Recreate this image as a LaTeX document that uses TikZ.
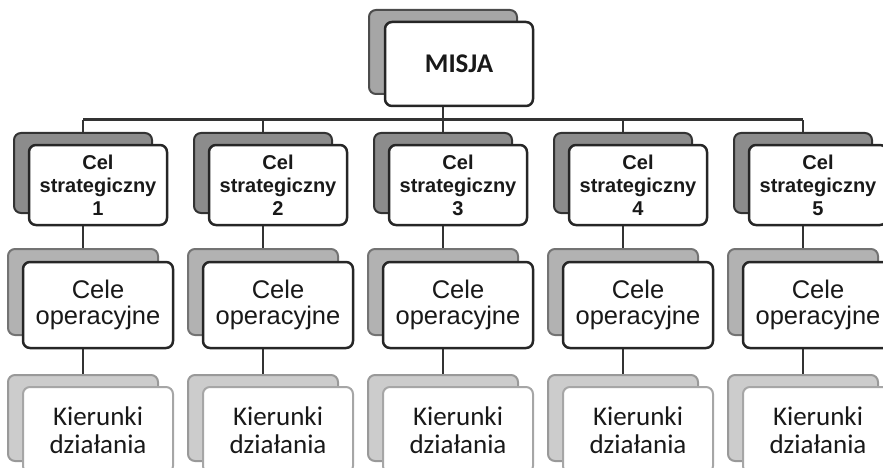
\documentclass[tikz,border=0pt]{standalone}
\usepackage{fontspec}
\setmainfont{Liberation Sans}
\newfontfamily\calibri{Carlito}
\usepackage{tikz}
\usetikzlibrary{positioning,backgrounds}
\tikzset{%
	shadowbox/.style = {rectangle, rounded corners=7pt, line width=2pt, inner sep=0pt},
	frontbox/.style  = {rectangle, rounded corners=7pt, fill=white, line width=2.5pt, draw=black!85, align=center, inner sep=0pt, text=black!90},
	misjabox/.style  = {minimum width=148pt, minimum height=84pt},
	celbox/.style    = {minimum width=138pt, minimum height=80pt},
	opbox/.style     = {minimum width=150pt, minimum height=86pt},
	link/.style      = {line width=2.5pt, draw=black!80},
}

\begin{document}
\begin{tikzpicture}[x=1pt,y=-1pt]
		\useasboundingbox (0,0) rectangle (883,468);
		\clip (0,0) rectangle (883,468);
		
		% mission
		\node[shadowbox, misjabox, fill=black!35, draw=black!70] (misjash) at (443,52) {};
		\node[frontbox, misjabox, font=\calibri\bfseries\fontsize{27}{30}\selectfont] (misja) at (459,64) {MISJA};
		
		% three levels per column
		\foreach \i in {1,...,5} {
			\pgfmathsetmacro\cx{83+180*(\i-1)}
			\node[shadowbox, celbox, fill=black!45, draw=black!80] (celsh\i) at (\cx,173) {};
			\node[frontbox, celbox, font=\bfseries\fontsize{20}{23}\selectfont] (cel\i) at (\cx+15,185) {Cel\\strategiczny\\\i};
			\node[shadowbox, opbox, fill=black!30, draw=black!55] (opsh\i) at (\cx,292) {};
			\node[frontbox, opbox, font=\fontsize{25.5}{26.5}\selectfont] (op\i) at (\cx+15,305) {Cele\\operacyjne};
			\node[shadowbox, opbox, fill=black!20, draw=black!40] (kiersh\i) at (\cx,418) {};
			\node[frontbox, opbox, draw=black!35, line width=2pt, font=\calibri\fontsize{27}{28}\selectfont] (kier\i) at (\cx+15,430) {Kierunki\\dzia\l{}ania};
		}
		
		% connectors
		\begin{scope}[on background layer]
			\coordinate (bar) at (0,120);
			\draw[link] (misjash.south) -- (celsh3.north);
			\draw[link, line width=3pt] (celsh1.north |- bar) -- (celsh5.north |- bar);
			\foreach \i in {1,...,5} {
				\draw[link] (celsh\i.north) -- (celsh\i.north |- bar);
				\draw[link] (celsh\i.south) -- (opsh\i.north);
				\draw[link] (opsh\i.south) -- (kiersh\i.north);
			}
		\end{scope}
\end{tikzpicture}
\end{document}
